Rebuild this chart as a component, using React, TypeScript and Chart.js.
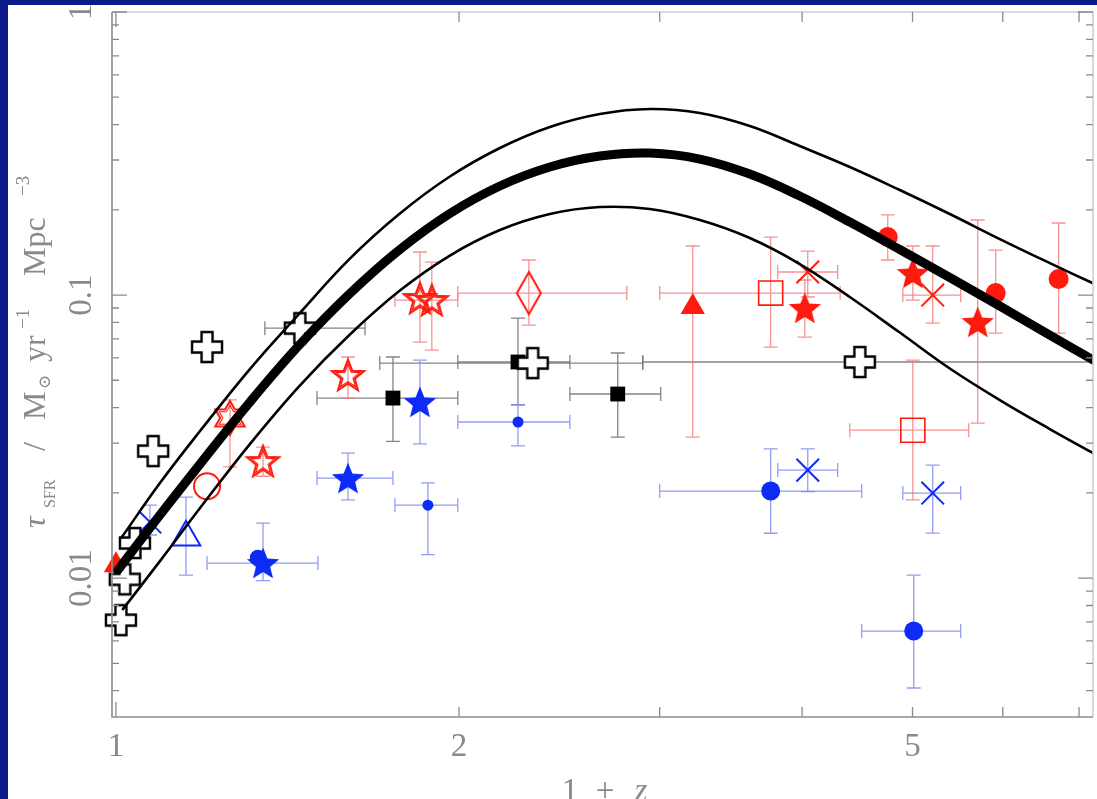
import React, { useEffect, useRef } from "react";
import { Chart, registerables } from "chart.js";

Chart.register(...registerables);

// ---------- axes ----------
const X_MIN = 0.992;
const X_MAX = 7.2;
const Y_MIN = 0.00323;
const Y_MAX = 1;
const xTickValues = [1, 2, 5];
const xTickLabels = ["1", "2", "5"];
const xTickMarks = [1, 2, 3, 4, 5, 6, 7];
const yTickValues = [0.01, 0.1, 1];
const yTickLabels = ["0.01", "0.1", "1"];
const yTickMarks = [
  0.004, 0.005, 0.006, 0.007, 0.008, 0.009,
  0.01, 0.02, 0.03, 0.04, 0.05, 0.06, 0.07, 0.08, 0.09,
  0.1, 0.2, 0.3, 0.4, 0.5, 0.6, 0.7, 0.8, 0.9, 1,
];

// ---------- model curves (1+z, rho_SFR) ----------
const gridX = [1.0929, 1.1851, 1.3107, 1.4498, 1.6042, 1.7747, 1.9634, 2.1721, 2.4029, 2.6583, 2.9409, 3.2535, 3.5993, 3.9811, 4.4049, 4.8731, 5.391, 5.9641, 6.5981, 7.2537];
const midX = [1.004, ...gridX];
const midY = [0.01067, 0.0167, 0.02528, 0.04186, 0.06684, 0.1012, 0.1448, 0.1941, 0.2428, 0.2834, 0.3099, 0.3175, 0.3023, 0.2676, 0.2238, 0.1811, 0.1448, 0.1153, 0.09145, 0.07222, 0.05798];
const upX = [1.012, ...gridX];
const upY = [0.01396, 0.02167, 0.03307, 0.05477, 0.08639, 0.1345, 0.1941, 0.2623, 0.3307, 0.3925, 0.4362, 0.4543, 0.4398, 0.3956, 0.3361, 0.2834, 0.235, 0.1933, 0.1577, 0.1297, 0.1085];
const lowX = [1.0142, ...gridX];
const lowY = [0.007771, 0.01148, 0.01768, 0.02975, 0.04788, 0.07251, 0.1037, 0.1379, 0.1697, 0.1933, 0.2046, 0.2013, 0.1841, 0.159, 0.1287, 0.09839, 0.0737, 0.055, 0.04255, 0.03361, 0.0272];

// ---------- data points: [x, y, xLo, xHi, yLo, yHi] ----------
type P = [number, number, number | null, number | null, number | null, number | null];
const blackPlus: P[] = [
  [1.01, 0.0071, null, null, null, null],
  [1.018, 0.0099, null, null, null, null],
  [1.039, 0.0133, null, null, null, null],
  [1.078, 0.0281, null, null, null, null],
  [1.202, 0.0655, null, null, null, null],
  [1.45, 0.0764, 1.351, 1.654, null, null],
  [2.321, 0.0575, 1.704, 2.899, null, null],
  [4.495, 0.058, 2.899, 7.8, null, null],
];
const blackSquares: P[] = [
  [1.75, 0.04325, 1.501, 1.995, 0.0304, 0.0604],
  [2.253, 0.058, 1.995, 2.502, 0.0409, 0.0829],
  [2.756, 0.0447, 2.502, 3.006, 0.0315, 0.0624],
];
const redOpenStars: P[] = [
  [1.346, 0.0259, null, null, 0.0229, 0.029],
  [1.598, 0.0522, null, null, 0.0432, 0.0604],
  [1.848, 0.0976, null, null, 0.0682, 0.1419],
  [1.893, 0.096, 1.757, 1.995, 0.0639, 0.1308],
];
const redHexagram: P[] = [[1.259, 0.0368, null, null, 0.0247, 0.0426]];
const redOpenCircle: P[] = [[1.202, 0.0211, null, null, null, null]];
const redDiamond: P[] = [[2.303, 0.1016, 1.995, 2.807, 0.0783, 0.133]];
const redTriangles: P[] = [
  [1.0, 0.0111, null, null, null, null],
  [3.207, 0.0907, null, null, 0.0315, 0.149],
];
const redOpenSquares: P[] = [
  [3.754, 0.1016, 3.0, 4.32, 0.0655, 0.1603],
  [5.003, 0.0333, 4.405, 5.601, 0.0189, 0.0589],
];
const redStars: P[] = [
  [4.022, 0.09, null, null, 0.071, 0.113],
  [5.003, 0.1196, null, null, 0.096, 0.149],
  [5.704, 0.0803, null, null, 0.0353, 0.1841],
];
const redCircles: P[] = [
  [4.756, 0.1603, null, null, 0.133, 0.192],
  [5.915, 0.1016, null, null, 0.0734, 0.1442],
  [6.717, 0.1139, null, null, 0.0734, 0.1797],
];
const redCrosses: P[] = [
  [4.046, 0.1206, 3.808, 4.298, 0.0984, 0.143],
  [5.208, 0.1, 4.903, 5.511, 0.0796, 0.149],
];
const blueTriangle: P[] = [[1.152, 0.01395, null, null, 0.01025, 0.01933]];
const blueCrosses: P[] = [
  [1.071, 0.01577, null, null, 0.0142, 0.0181],
  [4.046, 0.02407, 3.808, 4.298, 0.0202, 0.0286],
  [5.208, 0.01997, 4.903, 5.511, 0.01442, 0.02508],
];
const blueStars: P[] = [
  [1.346, 0.0113, 1.202, 1.504, 0.0098, 0.01564],
  [1.598, 0.02256, 1.501, 1.75, 0.0189, 0.02765],
  [1.848, 0.0419, null, null, 0.0298, 0.0589],
];
const blueSmallCircles: P[] = [
  [1.332, 0.0118, null, null, null, null],
  [1.878, 0.0181, 1.757, 1.995, 0.0121, 0.0217],
  [2.253, 0.0356, 1.995, 2.502, 0.0293, 0.0409],
];
const blueCircles: P[] = [
  [3.754, 0.0203, 3.0, 4.512, 0.0144, 0.0286],
  [5.012, 0.0065, 4.512, 5.511, 0.00409, 0.01025],
];

const RED = "#ff1a0d";
const BLUE = "#0d2bf5";
const ERR_RED = "rgba(242,120,120,0.8)";
const ERR_BLUE = "rgba(120,132,240,0.8)";
const ERR_BLACK = "rgba(120,120,120,0.9)";
const FRAME = "#0a1a8a";
const TEXT = "#8a8a8a";
const SERIF = "'Liberation Serif', 'DejaVu Serif', serif";

const pts = (arr: P[]) =>
  arr.map(([x, y, xl, xh, yl, yh]) => ({ x, y, xl, xh, yl, yh }));
const line = (xs: number[], ys: number[]) => xs.map((x, i) => ({ x, y: ys[i] }));

function mk(w: number, h: number, draw: (c: CanvasRenderingContext2D) => void) {
  const c = document.createElement("canvas");
  c.width = w;
  c.height = h;
  const ctx = c.getContext("2d")!;
  ctx.translate(w / 2, h / 2);
  draw(ctx);
  return c;
}
function starPath(ctx: CanvasRenderingContext2D, R: number, r: number, n: number) {
  ctx.beginPath();
  for (let i = 0; i < 2 * n; i++) {
    const rad = i % 2 === 0 ? R : r;
    const a = -Math.PI / 2 + (i * Math.PI) / n;
    ctx.lineTo(rad * Math.cos(a), rad * Math.sin(a));
  }
  ctx.closePath();
}

const errorBarPlugin = {
  id: "errbars",
  beforeDatasetsDraw(chart: any) {
    const { ctx, scales } = chart;
    const xs = scales.x;
    const ys = scales.y;
    const cap = 7;
    ctx.save();
    const a = chart.chartArea;
    ctx.beginPath();
    ctx.rect(a.left, a.top, a.right - a.left, a.bottom - a.top);
    ctx.clip();
    ctx.lineWidth = 1.3;
    chart.data.datasets.forEach((ds: any) => {
      if (!ds.errColor) return;
      ctx.strokeStyle = ds.errColor;
      ds.data.forEach((p: any) => {
        const px = xs.getPixelForValue(p.x);
        const py = ys.getPixelForValue(p.y);
        ctx.beginPath();
        if (p.xl != null && p.xh != null) {
          const l = xs.getPixelForValue(p.xl);
          const r = xs.getPixelForValue(p.xh);
          ctx.moveTo(l, py); ctx.lineTo(r, py);
          ctx.moveTo(l, py - cap); ctx.lineTo(l, py + cap);
          ctx.moveTo(r, py - cap); ctx.lineTo(r, py + cap);
        }
        if (p.yl != null && p.yh != null) {
          const b = ys.getPixelForValue(p.yl);
          const t = ys.getPixelForValue(p.yh);
          ctx.moveTo(px, b); ctx.lineTo(px, t);
          ctx.moveTo(px - cap, b); ctx.lineTo(px + cap, b);
          ctx.moveTo(px - cap, t); ctx.lineTo(px + cap, t);
        }
        ctx.stroke();
      });
    });
    ctx.restore();
  },
};

const framePlugin = {
  id: "frame",
  beforeDraw(chart: any) {
    const { ctx, width, height } = chart;
    ctx.save();
    ctx.fillStyle = FRAME;
    ctx.fillRect(0, 0, width, height);
    ctx.fillStyle = "#ffffff";
    ctx.fillRect(8, 5, width - 8, height - 5);
    ctx.restore();
  },
  afterDraw(chart: any) {
    const { ctx, scales, width, height } = chart;
    const xs = scales.x;
    const ys = scales.y;
    const { left, right, top, bottom } = chart.chartArea;
    ctx.save();
    // axes
    ctx.lineWidth = 1.6;
    ctx.strokeStyle = "#cfcfcf";
    ctx.beginPath();
    ctx.moveTo(left, top); ctx.lineTo(right, top); ctx.lineTo(right, bottom);
    ctx.stroke();
    ctx.strokeStyle = "#8c8c8c";
    ctx.beginPath();
    ctx.moveTo(left, top); ctx.lineTo(left, bottom); ctx.lineTo(right, bottom);
    ctx.stroke();
    ctx.lineWidth = 1.3;
    ctx.beginPath();
    xTickMarks.forEach((v) => {
      const px = xs.getPixelForValue(v);
      const len = v === 1 ? 15 : 10;
      ctx.moveTo(px, bottom); ctx.lineTo(px, bottom - len);
      ctx.moveTo(px, top); ctx.lineTo(px, top + len);
    });
    yTickMarks.forEach((v) => {
      const py = ys.getPixelForValue(v);
      const len = yTickValues.includes(v) ? 15 : 7;
      ctx.moveTo(left, py); ctx.lineTo(left + len, py);
      ctx.moveTo(right, py); ctx.lineTo(right - len, py);
    });
    ctx.stroke();

    // tick labels
    ctx.fillStyle = TEXT;
    ctx.font = `33px ${SERIF}`;
    ctx.textAlign = "center";
    ctx.textBaseline = "alphabetic";
    xTickValues.forEach((v, i) => {
      ctx.fillText(xTickLabels[i], xs.getPixelForValue(v), 756);
    });
    yTickValues.forEach((v, i) => {
      const py = ys.getPixelForValue(v);
      ctx.save();
      ctx.translate(91, py);
      ctx.rotate(-Math.PI / 2);
      ctx.fillText(yTickLabels[i], 0, 0);
      ctx.restore();
    });

    // x title
    ctx.font = `33px ${SERIF}`;
    ctx.fillText("1", 570, 801);
    ctx.fillText("+", 605, 801);
    ctx.font = `italic 33px ${SERIF}`;
    ctx.fillText("z", 641, 801);

    // y title (rotated)
    ctx.save();
    ctx.translate(45, 0);
    ctx.rotate(-Math.PI / 2);
    ctx.textAlign = "left";
    const segs: [string, string, number, number][] = [
      // text, font, start screen-y, baseline shift (screen x)
      ["\u03c4", `italic 32px ${SERIF}`, 528, 0],
      ["SFR", `16px ${SERIF}`, 508, 10],
      ["/", `32px ${SERIF}`, 451, 0],
      ["M", `32px ${SERIF}`, 420, 0],
      ["\u2299", `17px 'DejaVu Serif', serif`, 389, 5],
      ["yr", `32px ${SERIF}`, 362, 0],
      ["\u22121", `19px ${SERIF}`, 329, -16],
      ["Mpc", `32px ${SERIF}`, 276, 0],
      ["\u22123", `19px ${SERIF}`, 196, -16],
    ];
    segs.forEach(([t, f, sy, dx]) => {
      ctx.font = f;
      ctx.fillText(t, -sy, dx);
    });
    ctx.restore();

    // re-draw frame edges over overflow
    ctx.fillStyle = FRAME;
    ctx.fillRect(0, 0, width, 5);
    ctx.fillRect(0, 0, 8, height);
    ctx.restore();
  },
};

export default function App() {
  const ref = useRef<HTMLCanvasElement>(null);
  useEffect(() => {
    if (!ref.current) return;
    const plusOpen = mk(36, 36, (c) => {
      const a = 5.5, r = 15;
      c.beginPath();
      const p = [[-a, -r], [a, -r], [a, -a], [r, -a], [r, a], [a, a], [a, r], [-a, r], [-a, a], [-r, a], [-r, -a], [-a, -a]];
      p.forEach(([x, y]) => c.lineTo(x, y));
      c.closePath();
      c.fillStyle = "#fff";
      c.fill();
      c.lineWidth = 2.4;
      c.strokeStyle = "#000";
      c.stroke();
    });
    const starOpenRed = mk(40, 40, (c) => {
      c.translate(0, 1.5);
      c.strokeStyle = RED;
      c.lineWidth = 2;
      starPath(c, 17, 7.2, 5);
      c.stroke();
      c.lineWidth = 1.2;
      starPath(c, 12.5, 5.3, 5);
      c.stroke();
    });
    const starRed = mk(40, 40, (c) => {
      c.translate(0, 1.5);
      c.fillStyle = RED;
      starPath(c, 17, 7.5, 5);
      c.fill();
    });
    const starBlue = mk(40, 40, (c) => {
      c.translate(0, 1.5);
      c.fillStyle = BLUE;
      starPath(c, 17, 7.5, 5);
      c.fill();
    });
    const hexRed = mk(40, 40, (c) => {
      c.strokeStyle = RED;
      c.lineWidth = 2;
      starPath(c, 17, 9.8, 6);
      c.stroke();
      c.lineWidth = 1.1;
      starPath(c, 12.5, 7.2, 6);
      c.stroke();
    });
    const diamondRed = mk(30, 48, (c) => {
      c.strokeStyle = RED;
      c.lineWidth = 2;
      c.beginPath();
      c.moveTo(0, -21); c.lineTo(12, 0); c.lineTo(0, 21); c.lineTo(-12, 0);
      c.closePath();
      c.stroke();
    });

    const marker = (data: P[], extra: any) => ({
      data: pts(data),
      showLine: false,
      clip: false,
      pointHoverRadius: 0,
      ...extra,
    });

    const curve = (xs: number[], ys: number[], w: number) => ({
      data: line(xs, ys),
      showLine: true,
      borderColor: "#000",
      borderWidth: w,
      pointRadius: 0,
      tension: 0.4,
      borderCapStyle: "round",
      borderJoinStyle: "round",
    });

    const chart = new Chart(ref.current, {
      type: "scatter",
      data: {
        datasets: [
          curve(midX, midY, 9) as any,
          curve(upX, upY, 2.6) as any,
          curve(lowX, lowY, 2.6) as any,
          marker(blackPlus, { pointStyle: plusOpen, errColor: ERR_BLACK }),
          marker(blackSquares, { pointStyle: "rect", pointRadius: 10.5, backgroundColor: "#000", borderColor: "#000", borderWidth: 0, errColor: ERR_BLACK }),
          marker(redTriangles, { pointStyle: "triangle", pointRadius: 14, backgroundColor: RED, borderColor: RED, borderWidth: 0, errColor: ERR_RED }),
          marker(redStars, { pointStyle: starRed, errColor: ERR_RED }),
          marker(redCircles, { pointStyle: "circle", pointRadius: 10, backgroundColor: RED, borderColor: RED, borderWidth: 0, errColor: ERR_RED }),
          marker(redCrosses, { pointStyle: "crossRot", pointRadius: 16, borderColor: RED, borderWidth: 2, errColor: ERR_RED }),
          marker(redOpenSquares, { pointStyle: "rect", pointRadius: 17, backgroundColor: "rgba(0,0,0,0)", borderColor: RED, borderWidth: 1.6, errColor: ERR_RED }),
          marker(redOpenStars, { pointStyle: starOpenRed, errColor: ERR_RED }),
          marker(redHexagram, { pointStyle: hexRed, errColor: ERR_RED }),
          marker(redOpenCircle, { pointStyle: "circle", pointRadius: 13, backgroundColor: "rgba(0,0,0,0)", borderColor: RED, borderWidth: 2, errColor: ERR_RED }),
          marker(redDiamond, { pointStyle: diamondRed, errColor: ERR_RED }),
          marker(blueStars, { pointStyle: starBlue, errColor: ERR_BLUE }),
          marker(blueSmallCircles, { pointStyle: "circle", pointRadius: [8, 5.5, 5.5], backgroundColor: BLUE, borderColor: BLUE, borderWidth: 0, errColor: ERR_BLUE }),
          marker(blueCircles, { pointStyle: "circle", pointRadius: 9.5, backgroundColor: BLUE, borderColor: BLUE, borderWidth: 0, errColor: ERR_BLUE }),
          marker(blueCrosses, { pointStyle: "crossRot", pointRadius: 16, borderColor: BLUE, borderWidth: 2, errColor: ERR_BLUE }),
          marker(blueTriangle, { pointStyle: "triangle", pointRadius: 16.5, backgroundColor: "rgba(0,0,0,0)", borderColor: BLUE, borderWidth: 2, errColor: ERR_BLUE }),
        ],
      },
      options: {
        responsive: false,
        animation: false,
        devicePixelRatio: 1,
        events: [],
        layout: { autoPadding: false, padding: { left: 112, right: 4, top: 12, bottom: 82 } },
        plugins: { legend: { display: false }, tooltip: { enabled: false } },
        scales: {
          x: { type: "logarithmic", min: X_MIN, max: X_MAX, bounds: "data", display: false },
          y: { type: "logarithmic", min: Y_MIN, max: Y_MAX, bounds: "data", display: false },
        },
      } as any,
      plugins: [framePlugin, errorBarPlugin],
    });
    return () => chart.destroy();
  }, []);

  return (
    <div style={{ position: "fixed", left: 0, top: 0, width: 1097, height: 799, overflow: "hidden" }}>
      <canvas ref={ref} width={1097} height={799} style={{ display: "block", width: 1097, height: 799 }} />
    </div>
  );
}
